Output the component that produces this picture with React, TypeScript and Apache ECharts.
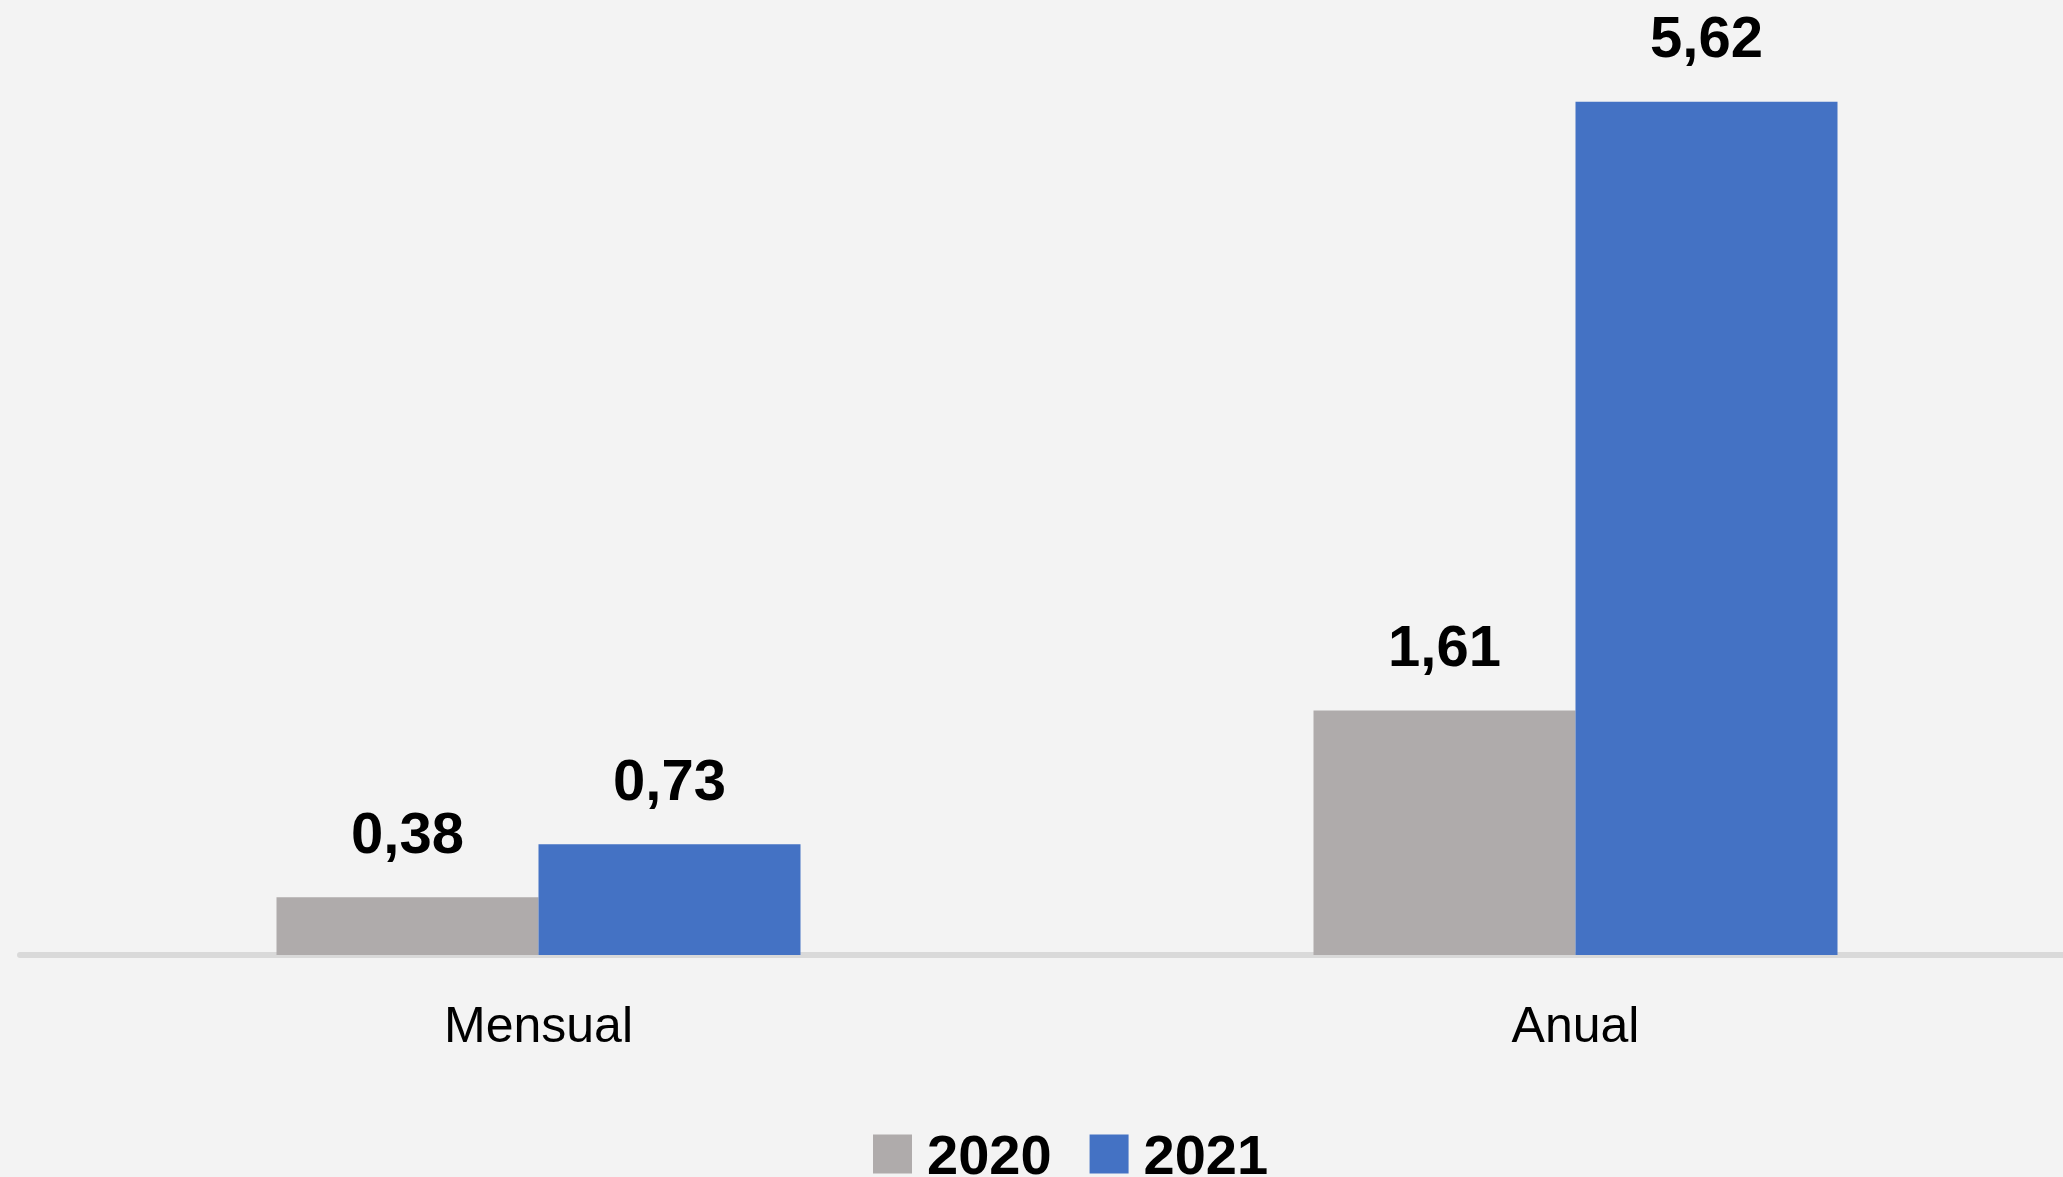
import React, { useEffect, useRef } from "react";
import * as echarts from "echarts";

const categories = ["Mensual", "Anual"];
const seriesNames = ["2020", "2021"];
const values2020 = [0.38, 1.61];
const values2021 = [0.73, 5.62];
const seriesColors = ["#AFABAB", "#4472C4"];

const fmt = (v: number) => v.toFixed(2).replace(".", ",");

export default function App() {
  const ref = useRef<HTMLDivElement>(null);
  useEffect(() => {
    if (!ref.current) return;
    const chart = echarts.init(ref.current, null, { renderer: "svg" });
    const labelStyle = {
      show: true,
      position: "top" as const,
      distance: 36,
      fontFamily: "Liberation Sans",
      fontWeight: "bold" as const,
      fontSize: 58,
      lineHeight: 58,
      color: "#000000",
      formatter: (p: any) => fmt(p.value),
    };
    chart.setOption({
      animation: false,
      backgroundColor: "#F3F3F3",
      grid: { left: 20, width: 2074, top: 44, bottom: 222, containLabel: false },
      legend: {
        data: seriesNames,
        left: 873,
        top: 1126,
        padding: 0,
        itemWidth: 39,
        itemHeight: 39,
        itemGap: 38,
        icon: "rect",
        textStyle: {
          fontFamily: "Liberation Sans",
          fontWeight: "bold",
          fontSize: 56,
          lineHeight: 56,
          color: "#000000",
          padding: [0, 0, 0, 10],
        },
      },
      xAxis: {
        type: "category",
        data: categories,
        axisLine: { show: true, lineStyle: { color: "#D9D9D9", width: 6 } },
        axisTick: { show: false },
        axisLabel: {
          margin: 45,
          fontFamily: "Liberation Sans",
          fontSize: 50,
          lineHeight: 50,
          color: "#000000",
        },
      },
      yAxis: {
        type: "value",
        min: 0,
        max: 6,
        show: false,
        splitLine: { show: false },
      },
      series: [
        {
          name: seriesNames[0],
          type: "bar",
          data: values2020,
          barWidth: 262,
          barGap: "0%",
          itemStyle: { color: seriesColors[0] },
          label: labelStyle,
        },
        {
          name: seriesNames[1],
          type: "bar",
          data: values2021,
          barWidth: 262,
          barGap: "0%",
          itemStyle: { color: seriesColors[1] },
          label: labelStyle,
        },
      ],
    });
    return () => chart.dispose();
  }, []);
  return (
    <div
      style={{
        position: "absolute",
        left: 0,
        top: 0,
        width: 2063,
        height: 1177,
        overflow: "hidden",
        background: "#F3F3F3",
      }}
    >
      <div ref={ref} style={{ width: 2120, height: 1177 }} />
    </div>
  );
}
